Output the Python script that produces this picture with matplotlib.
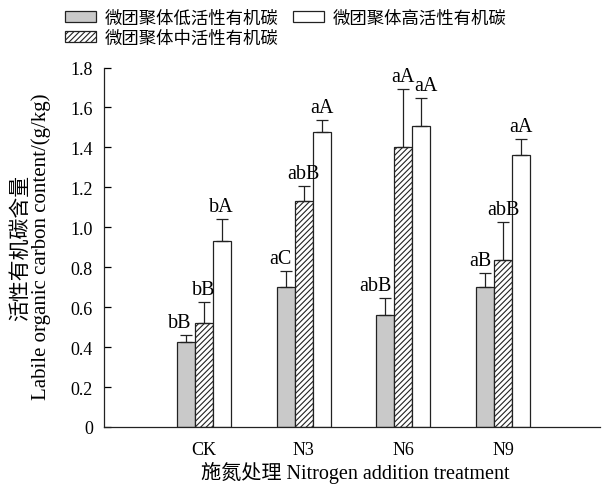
import matplotlib
matplotlib.use("Agg")
import matplotlib.pyplot as plt
import numpy as np

plt.rcParams['font.family'] = ['Liberation Serif', 'Noto Sans CJK SC']
plt.rcParams['hatch.linewidth'] = 0.8
plt.rcParams['axes.unicode_minus'] = False

# data
treatments = ["CK", "N3", "N6", "N9"]
series_names = ["微团聚体低活性有机碳", "微团聚体中活性有机碳", "微团聚体高活性有机碳"]
low_vals = [0.425, 0.70, 0.56, 0.70]
low_err = [0.035, 0.08, 0.085, 0.07]
mid_vals = [0.52, 1.13, 1.40, 0.835]
mid_err = [0.105, 0.075, 0.29, 0.19]
high_vals = [0.93, 1.475, 1.505, 1.36]
high_err = [0.11, 0.06, 0.14, 0.08]
low_labels = ["bB", "aC", "abB", "aB"]
mid_labels = ["bB", "abB", "aA", "abB"]
high_labels = ["bA", "aA", "aA", "aA"]
yticks = [0, 0.2, 0.4, 0.6, 0.8, 1.0, 1.2, 1.4, 1.6, 1.8]
ytick_labels = ["0", "0.2", "0.4", "0.6", "0.8", "1.0", "1.2", "1.4", "1.6", "1.8"]

fig = plt.figure(figsize=(6.03, 4.85), dpi=100)
ax = fig.add_axes([104/603, 57/485, 496/603, 359.5/485])

x = np.arange(len(treatments))
w = 0.18
styles = [
    dict(facecolor="#c9c9c9", hatch=None),
    dict(facecolor="white", hatch="//////"),
    dict(facecolor="white", hatch=None),
]
vals = [low_vals, mid_vals, high_vals]
errs = [low_err, mid_err, high_err]
labels = [low_labels, mid_labels, high_labels]
offsets = [-w, 0, w]
# small horizontal nudge (points) for crowded letter labels: (series, group) -> dx
nudge = {(2, 2): 3}

handles = []
for i in range(3):
    xs = x + offsets[i]
    b = ax.bar(xs, vals[i], width=w, facecolor=styles[i]["facecolor"],
               hatch=styles[i]["hatch"], edgecolor="#222222", linewidth=0.9,
               label=series_names[i], zorder=2)
    handles.append(b)
    ax.errorbar(xs, vals[i], yerr=[np.zeros(len(xs)), errs[i]], fmt="none",
                ecolor="#222222", elinewidth=0.9, capsize=4.5, capthick=0.9, zorder=3)
    for j in range(len(xs)):
        top = vals[i][j] + errs[i][j]
        dx = nudge.get((i, j), 0)
        if i == 0:
            ax.annotate(labels[i][j], (xs[j] + w/2 - 0.03, top), xytext=(dx, 6),
                        textcoords="offset points", ha="right", va="baseline",
                        fontsize=14.5)
        else:
            ax.annotate(labels[i][j], (xs[j], top), xytext=(dx, 6),
                        textcoords="offset points", ha="center", va="baseline",
                        fontsize=14.5)

ax.set_xlim(-1.0, 3.97)
ax.set_ylim(0, 1.8)
ax.set_yticks(yticks)
ax.set_yticklabels(ytick_labels, fontsize=13)
ax.set_xticks(x)
ax.set_xticklabels(treatments, fontsize=13)
ax.tick_params(axis="y", direction="in", length=5, width=0.9, pad=8)
ax.tick_params(axis="x", length=0, pad=10)
ax.spines["top"].set_visible(False)
ax.spines["right"].set_visible(False)
for s in ["left", "bottom"]:
    ax.spines[s].set_linewidth(0.9)
    ax.spines[s].set_color("#222222")

fig.text(355/603, 1 - 473/485, "施氮处理 Nitrogen addition treatment",
         ha="center", va="center", fontsize=14.5)
fig.text(21/603, 1 - 248/485, "活性有机碳含量", rotation=90,
         ha="center", va="center", fontsize=15)
fig.text(41/603, 1 - 247/485, "Labile organic carbon content/(g/kg)", rotation=90,
         ha="center", va="center", fontsize=15)

leg = fig.legend(handles=handles, loc="upper left", bbox_to_anchor=(53/603, 1.005),
                 ncol=2, frameon=False, fontsize=12.5, handlelength=1.8,
                 handleheight=0.6, handletextpad=0.5, columnspacing=0.8,
                 labelspacing=0.12, borderpad=0.2)
for t in leg.get_texts():
    t.set_family(['Noto Sans CJK SC'])

fig.savefig("out.png", dpi=100)
